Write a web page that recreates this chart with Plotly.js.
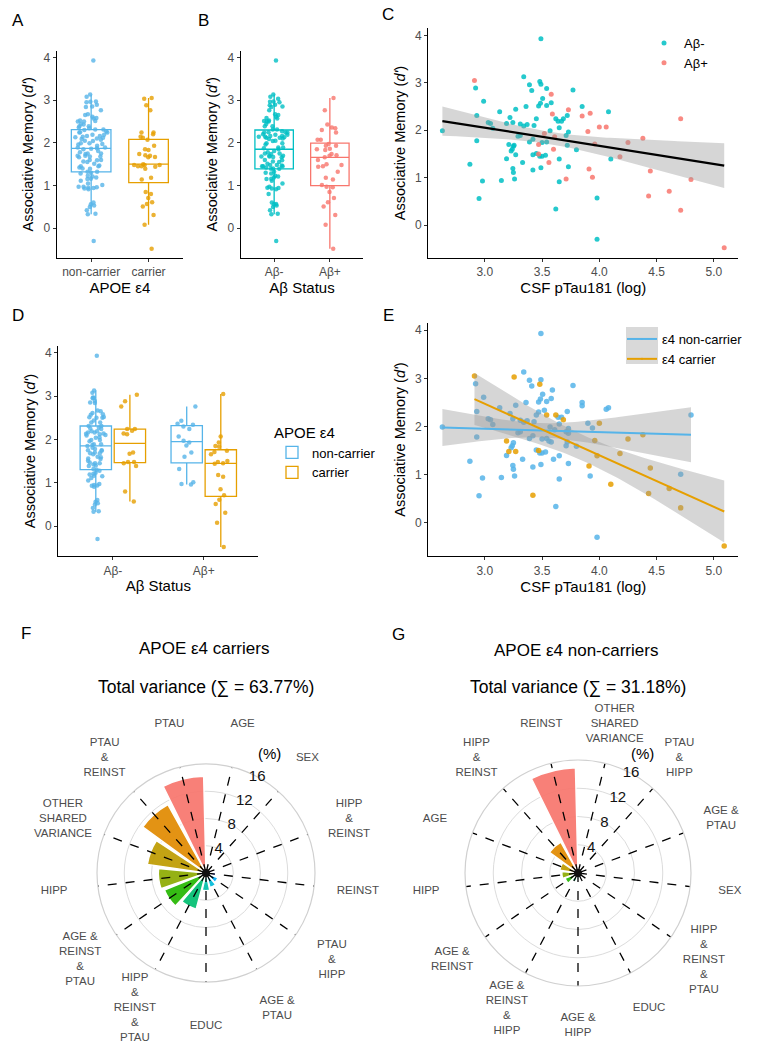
<!DOCTYPE html>
<html><head><meta charset="utf-8">
<script src="https://cdn.plot.ly/plotly-3.0.1.min.js"></script>
<style>body{margin:0;background:#fff}#fig{width:759px;height:1050px}</style>
</head><body><div id="fig"></div>
<script>
// ---------- DATA ----------
// Aβ- , APOE ε4 non-carriers with CSF pTau181 (log)
const negNonPtau = [2.63,2.92,2.99,2.93,3.03,3.05,3.07,2.93,2.87,2.98,2.95,3.145,3.13,3.34,3.27,3.22,3.245,3.31,3.34,3.37,3.36,3.39,3.41,3.49,3.49,3.505,3.486,3.47,3.54,3.58,3.43,3.45,3.64,3.67,3.65,3.57,3.72,3.77,3.85,3.73,3.71,3.72,3.80,3.31,3.29,3.39,3.42,3.50,3.54,3.48,3.50,3.25,3.24,3.23,3.19,3.245,3.25,3.33,3.42,3.53,3.49,3.65,3.65,3.26,3.62,3.98,4.08,3.73,3.45];
const negNonD    = [1.99,2.89,2.61,2.31,2.16,2.14,2.04,1.78,1.28,0.93,0.56,0.94,2.39,3.13,2.44,2.27,2.16,2.13,2.09,2.12,2.50,2.96,2.84,2.97,3.93,2.67,2.57,2.51,2.52,2.58,2.10,2.24,2.19,2.19,2.05,1.99,2.31,2.85,2.50,1.96,1.89,1.68,1.59,1.89,1.87,1.75,1.81,1.74,1.75,1.45,1.45,1.66,1.60,1.56,1.40,1.19,1.11,1.32,1.16,1.47,1.21,0.91,1.39,0.97,0.34,-0.30,2.39,1.23,1.51,1.68];
const negNonNoPtauD = [0.33,0.42,0.50,0.53,0.60,0.95,1.05,1.15,1.30,1.42,1.55,1.70,1.85,2.95,3.08,2.65,2.25];
// Aβ- , carriers
const negCarPtau = [3.256,3.48,3.54,3.62,3.686,3.19,3.21,3.27,3.42,3.98,4.10];
const negCarD    = [3.03,2.88,2.24,2.24,2.14,1.70,1.48,1.48,0.57,1.39,0.80];
const negCarNoPtauD = [2.76,2.12,2.20,1.67,1.45];
// Aβ+ , non-carriers
const posNonPtau = [3.58,3.59,3.52,3.61,3.73,3.85,3.47,3.56,3.60,3.71,3.92,4.06,3.90,3.94,4.71,4.80];
const posNonD    = [2.76,2.34,1.93,1.86,2.43,2.30,1.70,1.32,1.60,0.97,2.36,2.07,1.97,1.01,2.24,0.96];
// Aβ+ , carriers
const posCarPtau = [2.91,3.47,4.00,3.96,3.91,4.18,4.25,4.38,4.445,4.43,4.61,4.71,5.09];
const posCarD    = [3.05,1.50,2.07,1.71,1.18,1.44,1.74,1.83,1.14,0.61,0.71,0.31,-0.48];
const posCarNoPtauD = [1.93,1.85,1.66,1.48,1.45,0.85,0.51,0.08];

const apoeCats = ['non-carrier','carrier'];
const abCats = ['Aβ-','Aβ+'];

// Variance partitioning (%), clockwise from top
const carrierLabels = ['AGE','SEX','HIPP<br>&<br>REINST','REINST','PTAU<br>&<br>HIPP','AGE &<br>PTAU','EDUC','HIPP<br>&<br>REINST<br>&<br>PTAU','AGE &<br>REINST<br>&<br>PTAU','HIPP','OTHER<br>SHARED<br>VARIANCE','PTAU<br>&<br>REINST','PTAU'];
const carrierVals   = [0.4,0.7,1.0,1.4,1.9,2.2,2.6,5.5,6.6,7.0,8.7,11.5,14.2];
const nonCarrierLabels = ['OTHER<br>SHARED<br>VARIANCE','PTAU<br>&<br>HIPP','AGE &<br>PTAU','SEX','HIPP<br>&<br>REINST<br>&<br>PTAU','EDUC','AGE &<br>HIPP','AGE &<br>REINST<br>&<br>HIPP','AGE &<br>REINST','HIPP','AGE','HIPP<br>&<br>REINST','REINST'];
const nonCarrierVals   = [0.1,0.2,0.3,0.4,0.5,0.7,0.9,1.3,2.0,2.3,2.6,5.0,14.9];
const radialTicks = [4,8,12,16];

// ---------- STYLE ----------
const FONT = '"Liberation Sans", Arial, Helvetica, sans-serif';
const BLUE='#56B4E9', ORANGE='#E69F00', CYAN='#00BFC4', RED='#F8766D';
const hue13 = ['#F8766D','#E18A00','#BE9C00','#8CAB00','#24B700','#00BE70','#00C1AB','#00BBDA','#00ACFC','#8B93FF','#D575FE','#F962DD','#FF65AC'];
const RMAX = 16;          // outer circle of the rose plots
const OVER = 24;          // radial extent of the label overlay
const LABEL_PX = 153;     // label radius in px
const TICK_ANGLE = 28;    // angle (deg clockwise from top) of radial tick labels

function rankColors(vals){
  const idx = vals.map((v,i)=>i).sort((a,b)=>vals[b]-vals[a]);
  const out=[]; idx.forEach((k,r)=>{out[k]=hue13[r];}); return out;
}
function fit(xs, ys){
  const n=xs.length, mx=xs.reduce((a,b)=>a+b,0)/n, my=ys.reduce((a,b)=>a+b,0)/n;
  let sxx=0,sxy=0; for(let i=0;i<n;i++){sxx+=(xs[i]-mx)**2; sxy+=(xs[i]-mx)*(ys[i]-my);}
  const b=sxy/sxx, a=my-b*mx;
  let sse=0; for(let i=0;i<n;i++){sse+=(ys[i]-a-b*xs[i])**2;}
  const s=Math.sqrt(sse/(n-2)), df=n-2, z=1.959964;
  const t=z+(z**3+z)/(4*df)+(5*z**5+16*z**3+3*z)/(96*df*df);
  const x0=Math.min(...xs), x1=Math.max(...xs);
  const gx=[],gy=[],lo=[],hi=[];
  for(let i=0;i<80;i++){const x=x0+(x1-x0)*i/79, y=a+b*x, se=s*Math.sqrt(1/n+(x-mx)**2/sxx);
    gx.push(x); gy.push(y); lo.push(y-t*se); hi.push(y+t*se);}
  return {gx,gy,lo,hi};
}

const traces=[];
function box(y, x0, color, xa, ya, extra){
  return Object.assign({type:'box', y:y, x0:x0, xaxis:xa, yaxis:ya, boxpoints:'all', jitter:0.85, pointpos:0,
    line:{color:color,width:1.3}, fillcolor:'rgba(255,255,255,0)', whiskerwidth:0,
    marker:{color:color,size:4.5,opacity:0.8}, showlegend:false, hoverinfo:'skip'}, extra||{});
}
// A
const nonAll = negNonD.concat(negNonNoPtauD, posNonD);
const carAll = negCarD.concat(negCarNoPtauD, posCarD, posCarNoPtauD);
traces.push(box(nonAll, apoeCats[0], BLUE, 'x','y',{offsetgroup:'a',alignmentgroup:'a'}));
traces.push(box(carAll, apoeCats[1], ORANGE, 'x','y',{offsetgroup:'a',alignmentgroup:'a'}));
// B
const negAll = negNonD.concat(negNonNoPtauD, negCarD, negCarNoPtauD);
const posAll = posNonD.concat(posCarD, posCarNoPtauD);
traces.push(box(negAll, abCats[0], CYAN, 'x2','y2',{offsetgroup:'b',alignmentgroup:'b'}));
traces.push(box(posAll, abCats[1], RED, 'x2','y2',{offsetgroup:'b',alignmentgroup:'b'}));
// D
traces.push(box(negNonD.concat(negNonNoPtauD), abCats[0], BLUE,'x4','y4',{offsetgroup:'nc',alignmentgroup:'d',name:'non-carrier',legendgroup:'nc',showlegend:true,legend:'legend',jitter:0.7}));
traces.push(box(negCarD.concat(negCarNoPtauD), abCats[0], ORANGE,'x4','y4',{offsetgroup:'c',alignmentgroup:'d',name:'carrier',legendgroup:'c',showlegend:true,legend:'legend',jitter:0.7}));
traces.push(box(posNonD, abCats[1], BLUE,'x4','y4',{offsetgroup:'nc',alignmentgroup:'d',name:'non-carrier',legendgroup:'nc',jitter:0.7}));
traces.push(box(posCarD.concat(posCarNoPtauD), abCats[1], ORANGE,'x4','y4',{offsetgroup:'c',alignmentgroup:'d',name:'carrier',legendgroup:'c',jitter:0.7}));

// C
const negX = negNonPtau.concat(negCarPtau), negY = negNonD.concat(negCarD);
const posX = posNonPtau.concat(posCarPtau), posY = posNonD.concat(posCarD);
traces.push({type:'scatter',mode:'markers',x:negX,y:negY,xaxis:'x3',yaxis:'y3',name:'Aβ-',legend:'legend2',marker:{color:CYAN,size:5,opacity:0.85},hoverinfo:'skip'});
traces.push({type:'scatter',mode:'markers',x:posX,y:posY,xaxis:'x3',yaxis:'y3',name:'Aβ+',legend:'legend2',marker:{color:RED,size:5,opacity:0.85},hoverinfo:'skip'});
function band(f, xa, ya){
  return {type:'scatter',mode:'lines',x:f.gx.concat(f.gx.slice().reverse()),y:f.hi.concat(f.lo.slice().reverse()),
    fill:'toself',fillcolor:'rgba(153,153,153,0.4)',line:{width:0},xaxis:xa,yaxis:ya,showlegend:false,hoverinfo:'skip'};
}
const fC = fit(negX.concat(posX), negY.concat(posY));
traces.push(band(fC,'x3','y3'));
traces.push({type:'scatter',mode:'lines',x:fC.gx,y:fC.gy,line:{color:'#000',width:2.2},xaxis:'x3',yaxis:'y3',showlegend:false,hoverinfo:'skip'});

// E
const ncX = negNonPtau.concat(posNonPtau), ncY = negNonD.concat(posNonD);
const cX = negCarPtau.concat(posCarPtau), cY = negCarD.concat(posCarD);
traces.push({type:'scatter',mode:'markers',x:ncX,y:ncY,xaxis:'x5',yaxis:'y5',showlegend:false,marker:{color:BLUE,size:5.5,opacity:0.85},hoverinfo:'skip'});
traces.push({type:'scatter',mode:'markers',x:cX,y:cY,xaxis:'x5',yaxis:'y5',showlegend:false,marker:{color:ORANGE,size:5.5,opacity:0.85},hoverinfo:'skip'});
const fNC = fit(ncX,ncY), fCar = fit(cX,cY);
traces.push(band(fNC,'x5','y5'));
traces.push(band(fCar,'x5','y5'));
traces.push({type:'scatter',mode:'lines+markers',x:fNC.gx,y:fNC.gy,line:{color:BLUE,width:2},marker:{size:0.1,color:BLUE},xaxis:'x5',yaxis:'y5',name:'ε4 non-carrier',legend:'legend3',hoverinfo:'skip'});
traces.push({type:'scatter',mode:'lines+markers',x:fCar.gx,y:fCar.gy,line:{color:ORANGE,width:2},marker:{size:0.1,color:ORANGE},xaxis:'x5',yaxis:'y5',name:'ε4 carrier',legend:'legend3',hoverinfo:'skip'});

// F & G polar
function polarTraces(labels, vals, sub, overSub, pxPerUnit){
  const th=[], r=[];
  labels.forEach(c=>{th.push(c,c,null); r.push(0,RMAX,null);});
  const n=labels.length;
  const labTheta = labels.map((c,i)=>(i+0.5)*360/n);
  const labR = labels.map(()=>LABEL_PX/pxPerUnit);
  return [
    {type:'barpolar',theta:labels,r:vals,subplot:sub,marker:{color:rankColors(vals),line:{color:'#fff',width:1.5}},opacity:0.92,showlegend:false,hoverinfo:'skip'},
    {type:'scatterpolar',mode:'lines',theta:th,r:r,subplot:sub,line:{color:'#000',width:1.3,dash:'dash'},connectgaps:false,showlegend:false,hoverinfo:'skip'},
    {type:'scatterpolar',mode:'markers',theta:[labels[0]],r:[0],subplot:sub,marker:{color:'#111',size:8},showlegend:false,hoverinfo:'skip'},
    {type:'scatterpolar',mode:'text',theta:labTheta,r:labR,text:labels,textposition:'middle center',cliponaxis:false,subplot:overSub,
      textfont:{family:FONT,size:11.5,color:'#4d4d4d'},showlegend:false,hoverinfo:'skip'},
    {type:'scatterpolar',mode:'text',theta:radialTicks.map(()=>TICK_ANGLE),r:radialTicks,text:radialTicks.map(String),textposition:'middle center',cliponaxis:false,subplot:overSub,
      textfont:{family:FONT,size:15,color:'#111'},showlegend:false,hoverinfo:'skip'}
  ];
}
const W=759,H=1050;
function px(x){return x/W;} function py(y){return 1-y/H;}
// rose geometry (px)
const F_C=[206,873], F_R=109, G_C=[578,873], G_R=113;
traces.push(...polarTraces(carrierLabels, carrierVals, 'polar', 'polar3', F_R/RMAX));
traces.push(...polarTraces(nonCarrierLabels, nonCarrierVals, 'polar2', 'polar4', G_R/RMAX));

// ---------- LAYOUT ----------
const tickfont = {family:FONT,size:12,color:'#4d4d4d'};
function xcat(domain, cats, anchor, title){
  return {domain:domain,anchor:anchor,type:'category',categoryorder:'array',categoryarray:cats,range:[-0.6,1.6],
    showline:true,linecolor:'#000',linewidth:1.2,ticks:'outside',ticklen:3,tickcolor:'#333',tickfont:tickfont,
    showgrid:false,zeroline:false,automargin:false,title:{text:title,font:{family:FONT,size:15,color:'#000'},standoff:4}};
}
function xnum(domain, anchor){
  return {domain:domain,anchor:anchor,range:[2.507,5.213],tickvals:[3,3.5,4,4.5,5],ticktext:['3.0','3.5','4.0','4.5','5.0'],
    showline:true,linecolor:'#000',linewidth:1.2,ticks:'outside',ticklen:3,tickcolor:'#333',tickfont:tickfont,
    showgrid:false,zeroline:false,automargin:false,title:{text:'CSF pTau181 (log)',font:{family:FONT,size:15,color:'#000'},standoff:4}};
}
function yax(domain, anchor){
  return {domain:domain,anchor:anchor,range:[-0.69,4.15],tickvals:[0,1,2,3,4],
    showline:true,linecolor:'#000',linewidth:1.2,ticks:'outside',ticklen:3,tickcolor:'#333',tickfont:tickfont,
    showgrid:false,zeroline:false,automargin:false,title:{text:"Associative Memory (<i>d'</i>)",font:{family:FONT,size:14.5,color:'#000'},standoff:6}};
}
function polarLayout(c, R, cats){
  return {domain:{x:[px(c[0]-R),px(c[0]+R)],y:[py(c[1]+R),py(c[1]-R)]},bgcolor:'rgba(0,0,0,0)',
    angularaxis:{type:'category',categoryarray:cats,direction:'clockwise',rotation:90-360/cats.length/2,
      showline:true,linecolor:'#d0d0d0',linewidth:1.2,showgrid:false,ticks:'',showticklabels:false},
    radialaxis:{range:[0,RMAX],tickvals:radialTicks,showline:false,ticks:'',showgrid:true,gridcolor:'#dcdcdc',gridwidth:1,showticklabels:false}};
}
function overlayLayout(c, R){
  const Ro = R*OVER/RMAX;
  return {domain:{x:[px(c[0]-Ro),px(c[0]+Ro)],y:[py(c[1]+Ro),py(c[1]-Ro)]},bgcolor:'rgba(0,0,0,0)',
    angularaxis:{direction:'clockwise',rotation:90,visible:false,showgrid:false,showline:false,showticklabels:false,ticks:''},
    radialaxis:{range:[0,OVER],visible:false,showgrid:false,showline:false,showticklabels:false,ticks:''}};
}
function ann(text,x,y,size,extra){return Object.assign({text:text,x:px(x),y:py(y),xref:'paper',yref:'paper',showarrow:false,xanchor:'center',yanchor:'middle',font:{family:FONT,size:size,color:'#000'}},extra||{});}

const layout = {
  width:W,height:H,margin:{l:0,r:0,t:0,b:0},paper_bgcolor:'#fff',plot_bgcolor:'rgba(0,0,0,0)',
  font:{family:FONT},
  boxmode:'group',boxgap:0.25,boxgroupgap:0.08,
  xaxis:xcat([px(56.7),px(183)],apoeCats,'y','APOE ε4'),
  yaxis:yax([py(257.7),py(51)],'x'),
  xaxis2:xcat([px(240.7),px(363.3)],abCats,'y2','Aβ Status'),
  yaxis2:yax([py(257.7),py(51)],'x2'),
  xaxis3:xnum([px(428.3),px(738.3)],'y3'),
  yaxis3:yax([py(257.7),py(28.3)],'x3'),
  xaxis4:xcat([px(58.3),px(258.3)],abCats,'y4','Aβ Status'),
  yaxis4:yax([py(556),py(346.3)],'x4'),
  xaxis5:xnum([px(428.3),px(738.3)],'y5'),
  yaxis5:yax([py(556),py(323)],'x5'),
  legend:{x:px(272),y:py(418),xanchor:'left',yanchor:'top',bgcolor:'rgba(0,0,0,0)',
    title:{text:'APOE ε4',font:{family:FONT,size:15,color:'#000'}},font:{family:FONT,size:13,color:'#000'},tracegroupgap:0},
  legend2:{x:px(644),y:py(28),xanchor:'left',yanchor:'top',bgcolor:'rgba(0,0,0,0)',font:{family:FONT,size:13,color:'#000'},tracegroupgap:0},
  legend3:{x:px(622),y:py(324),xanchor:'left',yanchor:'top',bgcolor:'rgba(0,0,0,0)',font:{family:FONT,size:13,color:'#000'},tracegroupgap:0},
  shapes:[{type:'rect',xref:'paper',yref:'paper',x0:px(626),x1:px(658),y0:py(364),y1:py(327),fillcolor:'#d9d9d9',line:{width:0},layer:'below'}],
  polar:polarLayout(F_C,F_R,carrierLabels),
  polar2:polarLayout(G_C,G_R,nonCarrierLabels),
  polar3:overlayLayout(F_C,F_R),
  polar4:overlayLayout(G_C,G_R),
  annotations:[
    ann('A',18,20,17),ann('B',203,20,17),ann('C',388,15,17),ann('D',18,315,17),ann('E',388,315,17),ann('F',26,633,17),ann('G',398,634,17),
    ann('APOE ε4 carriers',204,648,17),ann('Total variance (∑ = 63.77%)',206,687,17.5),
    ann('APOE ε4 non-carriers',576,650,17),ann('Total variance (∑ = 31.18%)',578,687,17.5),
    ann('(%)',269,753,15),ann('(%)',642,753,15)
  ]
};
Plotly.newPlot('fig',traces,layout,{staticPlot:true});
</script></body></html>
